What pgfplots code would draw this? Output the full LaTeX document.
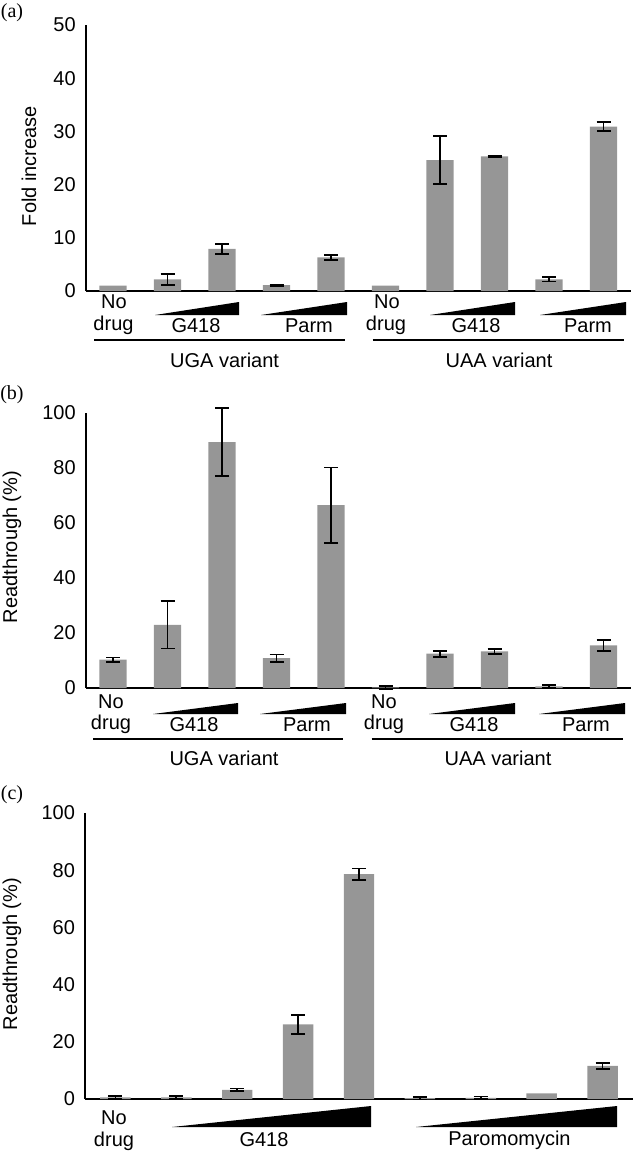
\documentclass[border=0pt]{standalone}
\usepackage{fontspec}
\setmainfont{Liberation Sans}
\newfontfamily\seriffont{Liberation Serif}
\usepackage{pgfplots}
\pgfplotsset{compat=1.18}
\definecolor{bargray}{RGB}{150,150,150}
\newcommand{\fs}{\fontsize{10}{12}\selectfont}
\pgfplotsset{
  panel/.style={
    scale only axis,
    axis lines*=left,
    axis line style={black, line width=0.8pt, -},
    xtick=\empty,
    major tick length=0pt,
    ymin=0,
    tick label style={font=\fs},
    /pgf/number format/assume math mode=true,
    yticklabel style={xshift=-1.5pt},
    clip=false,
  },
  bars/.style={ybar, bar width=0.5, bar shift=0pt, fill=bargray, draw=none, mark=none},
  errs/.style={mark=none, draw=none, forget plot,
    error bars/.cd, y dir=both, y explicit,
    error bar style={draw=black, solid, line width=0.9pt},
    error mark options={draw=black, solid, rotate=90, line width=0.9pt, mark size=3.5pt}},
}
\begin{document}
\begin{tikzpicture}[x=0.5pt, y=-0.5pt]
\path[use as bounding box] (0,0) rectangle (633,1152);

% ---------------- (a) ----------------
\begin{axis}[panel, at={(42.9pt,-145.5pt)}, anchor=south west,
  width=272.5pt, height=133pt, xmin=-0.5, xmax=9.5, ymax=50,
  ytick={0,10,...,50}]
\addplot[bars] table {
x y
0 1.0
1 2.2
2 7.9
3 1.1
4 6.3
5 1.0
6 24.6
7 25.3
8 2.2
9 30.9
};
\addplot[errs] table[x=x, y=y, y error=e] {
x y e
1 2.2 1.0
2 7.9 0.9
3 1.1 0.1
4 6.3 0.45
6 24.6 4.5
7 25.3 0.05
8 2.2 0.4
9 30.9 0.8
};
\end{axis}

% ---------------- (b) ----------------
\begin{axis}[panel, at={(42.9pt,-344pt)}, anchor=south west,
  width=272.5pt, height=137.5pt, xmin=-0.5, xmax=9.5, ymax=100,
  ytick={0,20,...,100}]
\addplot[bars] table {
x y
0 10.3
1 23.0
2 89.4
3 10.9
4 66.5
5 0.2
6 12.5
7 13.3
8 0.6
9 15.5
};
\addplot[errs] table[x=x, y=y, y error=e] {
x y e
0 10.3 0.8
1 23.0 8.6
2 89.4 12.3
3 10.9 1.3
4 66.5 13.7
5 0.2 0.5
6 12.5 1.1
7 13.3 0.9
8 0.6 0.5
9 15.5 1.9
};
\end{axis}

% ---------------- (c) ----------------
\begin{axis}[panel, at={(42.5pt,-549.5pt)}, anchor=south west,
  width=274pt, height=143pt, xmin=-0.5, xmax=8.5, ymax=100,
  ytick={0,20,...,100}]
\addplot[bars] table {
x y
0 0.6
1 0.6
2 3.2
3 26.1
4 78.6
5 0.3
6 0.4
7 2.0
8 11.6
};
\addplot[errs] table[x=x, y=y, y error=e] {
x y e
0 0.6 0.5
1 0.6 0.5
2 3.2 0.5
3 26.1 3.3
4 78.6 2.0
5 0.3 0.5
6 0.4 0.5
8 11.6 1.1
};
\end{axis}

% ---------------- annotations ----------------
\node[font=\seriffont\fontsize{10}{12}\selectfont] at (12,13) {(a)};
\node[font=\seriffont\fontsize{10}{12}\selectfont] at (12,395) {(b)};
\node[font=\seriffont\fontsize{10}{12}\selectfont] at (12,795) {(c)};

\node[font=\fs, rotate=90] at (29,166) {Fold increase};
\node[font=\fs, rotate=90] at (12,547) {Readthrough (\%)};
\node[font=\fs, rotate=90] at (12,954) {Readthrough (\%)};

% (a) labels
\foreach \xa/\xb in {155/239, 261/347, 430/515, 540/626}
  \fill[black] (\xa,315) -- (\xb,315) -- (\xb,302) -- cycle;
\node[font=\fs] at (114,302) {No};
\node[font=\fs] at (113.5,325) {drug};
\node[font=\fs] at (196,326) {G418};
\node[font=\fs] at (309,326) {Parm};
\node[font=\fs] at (387,302) {No};
\node[font=\fs] at (386,325) {drug};
\node[font=\fs] at (476,326) {G418};
\node[font=\fs] at (588,326) {Parm};
\draw[line width=1pt] (94,340) -- (345,340);
\draw[line width=1pt] (372.5,340) -- (623.6,340);
\node[font=\fs] at (224.6,360) {UGA variant};
\node[font=\fs] at (499,360) {UAA variant};

% (b) labels
\foreach \xa/\xb in {153/238, 260/346, 429/515, 539/625}
  \fill[black] (\xa,714) -- (\xb,714) -- (\xb,703) -- cycle;
\node[font=\fs] at (111,702) {No};
\node[font=\fs] at (111,724) {drug};
\node[font=\fs] at (194,725) {G418};
\node[font=\fs] at (307,725) {Parm};
\node[font=\fs] at (384,702) {No};
\node[font=\fs] at (384,724) {drug};
\node[font=\fs] at (474,725) {G418};
\node[font=\fs] at (586,725) {Parm};
\draw[line width=1pt] (93,739) -- (343,739);
\draw[line width=1pt] (371.6,739) -- (623,739);
\node[font=\fs] at (224,758) {UGA variant};
\node[font=\fs] at (498,758) {UAA variant};

% (c) labels
\fill[black] (172,1127) -- (371,1127) -- (371,1106) -- cycle;
\fill[black] (416,1127) -- (617,1127) -- (617,1106) -- cycle;
\node[font=\fs] at (114,1118) {No};
\node[font=\fs] at (114,1141) {drug};
\node[font=\fs] at (264,1140) {G418};
\node[font=\fs] at (509.5,1140) {Paromomycin};
\end{tikzpicture}
\end{document}
